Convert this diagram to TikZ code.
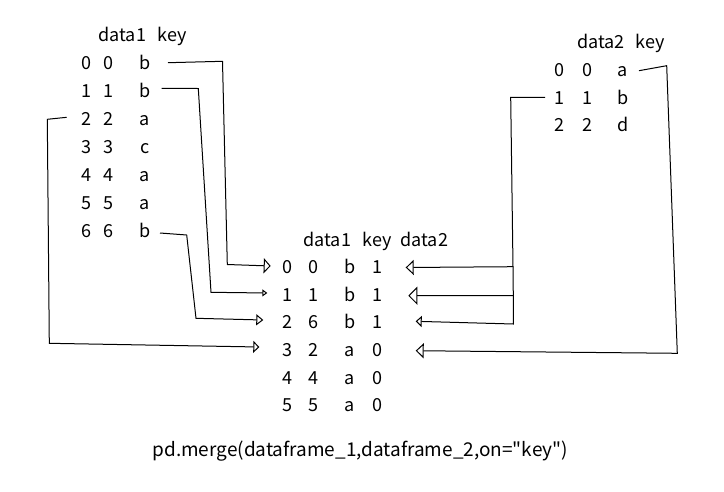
\documentclass[tikz,border=0pt]{standalone}
\usepackage{fontspec}
\setmainfont{Noto Sans CJK SC}
\newfontfamily\plainfont{Noto Sans CJK SC}[Ligatures=ResetAll]
\usetikzlibrary{arrows.meta}
\begin{document}
\begin{tikzpicture}[x=1pt,y=-1pt,line width=1pt,
  txt/.style={inner sep=0pt,font=\fontsize{18}{20}\selectfont},
  cell/.style={txt,anchor=base},
  hdr/.style={txt,anchor=base west},
  conn/.style={draw,line join=miter},
  ar/.style 2 args={-{Triangle[open,length=#1,width=#2]}}]
\fill[white] (0,0) rectangle (724,491);
\useasboundingbox (0,0) rectangle (724,491);

% left table
\node[hdr] (lh1) at (98,41.7) {data1};
\node[hdr] (lh2) at (157,41.7) {key};
\foreach \r/\d/\k in {0/0/b,1/1/b,2/2/a,3/3/c,4/4/a,5/5/a,6/6/b}{
  \node[cell] (li\r) at (86,69.3+28.05*\r) {\r};
  \node[cell] (ld\r) at (108,69.3+28.05*\r) {\d};
  \node[cell] (lk\r) at (145,69.3+28.05*\r) {\k};
}

% right table
\node[hdr] (rh1) at (576.7,48.3) {data2};
\node[hdr] (rh2) at (635,48.3) {key};
\foreach \r/\d/\k in {0/0/a,1/1/b,2/2/d}{
  \node[cell] (ri\r) at (559,76.6+27.5*\r) {\r};
  \node[cell] (rd\r) at (587,76.6+27.5*\r) {\d};
  \node[cell] (rk\r) at (623,76.6+27.5*\r) {\k};
}

% merged table
\node[hdr] (mh1) at (303,246) {data1};
\node[hdr] (mh2) at (362,246) {key};
\node[hdr] (mh3) at (400,246) {data2};
\foreach \r/\d/\k/\e in {0/0/b/1,1/1/b/1,2/6/b/1,3/2/a/0,4/4/a/0,5/5/a/0}{
  \node[cell] (mi\r) at (287,273.3+27.7*\r) {\r};
  \node[cell] (md\r) at (313,273.3+27.7*\r) {\d};
  \node[cell] (mk\r) at (350,273.3+27.7*\r) {\k};
  \node[cell] (me\r) at (377,273.3+27.7*\r) {\e};
}

% caption
\node[hdr,font=\fontsize{19}{21}\selectfont] (cap) at (152,456.7) {\plainfont pd.merge(dataframe\_1,dataframe\_2,on="key")};

% connector end points
\coordinate (s0) at (168,62.7);
\coordinate (s1) at (161.7,88.3);
\coordinate (s6) at (160,233);
\coordinate (s2) at (66.7,117.3);
\coordinate (t0) at (270.7,266);
\coordinate (t1) at (267.3,293);
\coordinate (t2) at (263.3,320);
\coordinate (t3) at (259.3,347);
\coordinate (sa) at (639,70.7);
\coordinate (sb) at (545,97.3);
\coordinate (u0) at (405.7,267.5);
\coordinate (u1) at (408.3,295.7);
\coordinate (u2) at (415.7,321.3);
\coordinate (u3) at (415.7,350.7);
\coordinate (j0) at (513,266.7);
\coordinate (j1) at (513.3,295.7);

% left connectors
\draw[conn,ar={7pt}{15pt}] (s0) -- (222.5,61.3) -- (227.3,264.5) -- (t0);
\draw[conn,ar={5pt}{7pt}] (s1) -- (198.3,88.5) -- (211,292.3) -- (t1);
\draw[conn,ar={7pt}{11pt}] (s6) -- (186.7,235) -- (196,318.3) -- (t2);
\draw[conn,ar={6pt}{12pt}] (s2) -- (47.3,119.3) -- (49.3,343.3) -- (t3);

% right connectors
\draw[conn,ar={8pt}{15pt}] (sa) -- (666.7,65.7) -- (677.3,353.3) -- (u3);
\draw[conn,ar={8pt}{15pt}] (sb) -- (510.7,97.3) -- (j0) -- (u0);
\draw[conn,ar={9pt}{18pt}] (j0) -- (j1) -- (u1);
\draw[conn,ar={6pt}{11pt}] (j1) -- (513.3,324) -- (u2);
\end{tikzpicture}
\end{document}
